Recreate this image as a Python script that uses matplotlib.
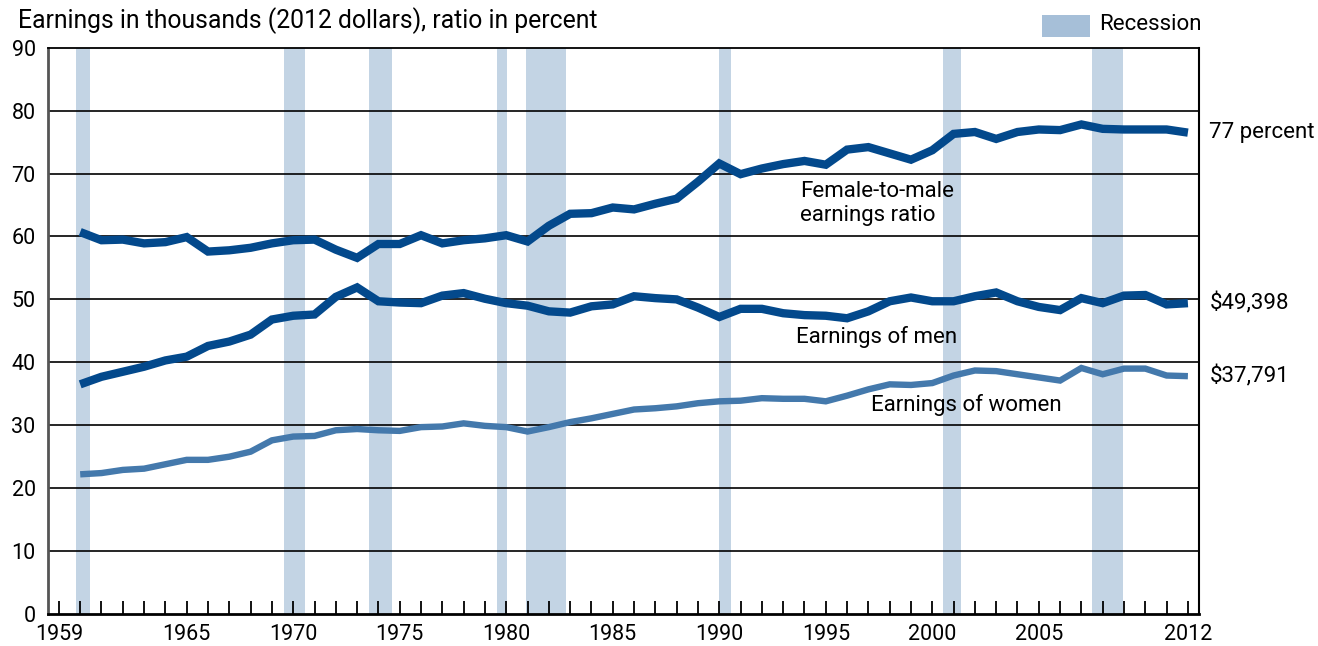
import matplotlib
matplotlib.use("Agg")
from matplotlib import pyplot as plt
from matplotlib.patches import Rectangle

# === 数据 ===
years = list(range(1960, 2013))
ratio = [60.7, 59.4, 59.5, 58.9, 59.1, 59.9, 57.6, 57.8, 58.2, 58.9,
         59.4, 59.5, 57.9, 56.6, 58.8, 58.8, 60.2, 58.9, 59.4, 59.7,
         60.2, 59.2, 61.7, 63.6, 63.7, 64.6, 64.3, 65.2, 66.0, 68.7,
         71.6, 69.9, 70.8, 71.5, 72.0, 71.4, 73.8, 74.2, 73.2, 72.2,
         73.7, 76.3, 76.6, 75.5, 76.6, 77.0, 76.9, 77.8, 77.1, 77.0,
         77.0, 77.0, 76.5]
men = [36.5, 37.7, 38.5, 39.3, 40.3, 40.9, 42.6, 43.3, 44.4, 46.8,
       47.4, 47.6, 50.4, 51.9, 49.7, 49.5, 49.4, 50.6, 51.0, 50.1,
       49.4, 49.0, 48.1, 47.9, 48.9, 49.2, 50.5, 50.2, 50.0, 48.7,
       47.2, 48.5, 48.5, 47.8, 47.5, 47.4, 47.0, 48.1, 49.7, 50.3,
       49.7, 49.7, 50.5, 51.1, 49.7, 48.8, 48.3, 50.2, 49.4, 50.6,
       50.7, 49.2, 49.4]
women = [22.2, 22.4, 22.9, 23.1, 23.8, 24.5, 24.5, 25.0, 25.8, 27.6,
         28.2, 28.3, 29.2, 29.4, 29.2, 29.1, 29.7, 29.8, 30.3, 29.9,
         29.7, 29.0, 29.7, 30.5, 31.1, 31.8, 32.5, 32.7, 33.0, 33.5,
         33.8, 33.9, 34.3, 34.2, 34.2, 33.8, 34.7, 35.7, 36.5, 36.4,
         36.7, 37.9, 38.7, 38.6, 38.1, 37.6, 37.1, 39.1, 38.1, 39.0,
         39.0, 37.9, 37.8]
recessions = [(1959.8, 1960.46), (1969.56, 1970.57), (1973.55, 1974.66),
              (1979.56, 1980.02), (1980.93, 1982.8), (1990.0, 1990.55),
              (2000.52, 2001.35), (2007.5, 2008.94)]
tick_years = list(range(1959, 2013))
label_years = [1959, 1965, 1970, 1975, 1980, 1985, 1990, 1995, 2000, 2005, 2012]
end_labels = ["77 percent", "$49,398", "$37,791"]

DARK = "#03498C"
LIGHT = "#4479AC"
BAR = "#C3D4E4"

plt.rcParams["font.family"] = ["Roboto", "DejaVu Sans"]

fig = plt.figure(figsize=(13.18, 6.46), dpi=100)
ax = fig.add_axes([0.0366, 0.0495, 0.8731, 0.8767])

for a, b in recessions:
    ax.axvspan(a, b, color=BAR, lw=0, zorder=1)

for v in range(10, 90, 10):
    ax.axhline(v, color="black", lw=1.2, zorder=2)

kw = dict(solid_capstyle="butt", solid_joinstyle="miter", zorder=3)
ax.plot(years, ratio, color=DARK, lw=6, **kw)
ax.plot(years, men, color=DARK, lw=6, **kw)
ax.plot(years, women, color=LIGHT, lw=4.6, **kw)

ax.set_xlim(1958.5, 2012.52)
ax.set_ylim(0, 90)
ax.set_yticks(range(0, 100, 10))
ax.tick_params(axis="y", length=0, pad=9, labelsize=15.5)
ax.set_xticks(tick_years)
ax.set_xticklabels([str(y) if y in label_years else "" for y in tick_years])
ax.tick_params(axis="x", direction="in", length=9.5, width=1.3, pad=7, labelsize=15.5)

ax.spines["left"].set_color("#555555")
ax.spines["left"].set_linewidth(2)
ax.spines["bottom"].set_linewidth(2)
ax.spines["top"].set_linewidth(1.3)
ax.spines["right"].set_linewidth(1.5)

# 线上标注
ax.text(1993.8, 65.3, "Female-to-male\nearnings ratio", fontsize=16,
        va="center", ha="left", linespacing=1.2)
ax.text(1993.6, 44.0, "Earnings of men", fontsize=16, va="center", ha="left")
ax.text(1997.1, 33.2, "Earnings of women", fontsize=16, va="center", ha="left")

# 右侧末端数值
for val, txt in zip([ratio[-1], men[-1], women[-1]], end_labels):
    ax.annotate(txt, xy=(1.0, val), xycoords=("axes fraction", "data"),
                xytext=(7.5, 0), textcoords="offset points",
                fontsize=16, va="center", ha="left")

fig.text(18 / 1318, 1 - 21 / 646, "Earnings in thousands (2012 dollars), ratio in percent",
         fontsize=17.8, va="center", ha="left")

# 图例
fig.add_artist(Rectangle((1042 / 1318, 1 - 37 / 646), 48 / 1318, 22 / 646,
                         transform=fig.transFigure, color="#A6BFD8", lw=0))
fig.text(1099 / 1318, 1 - 25 / 646, "Recession", fontsize=16, va="center", ha="left")

fig.savefig("out.png", dpi=100)
